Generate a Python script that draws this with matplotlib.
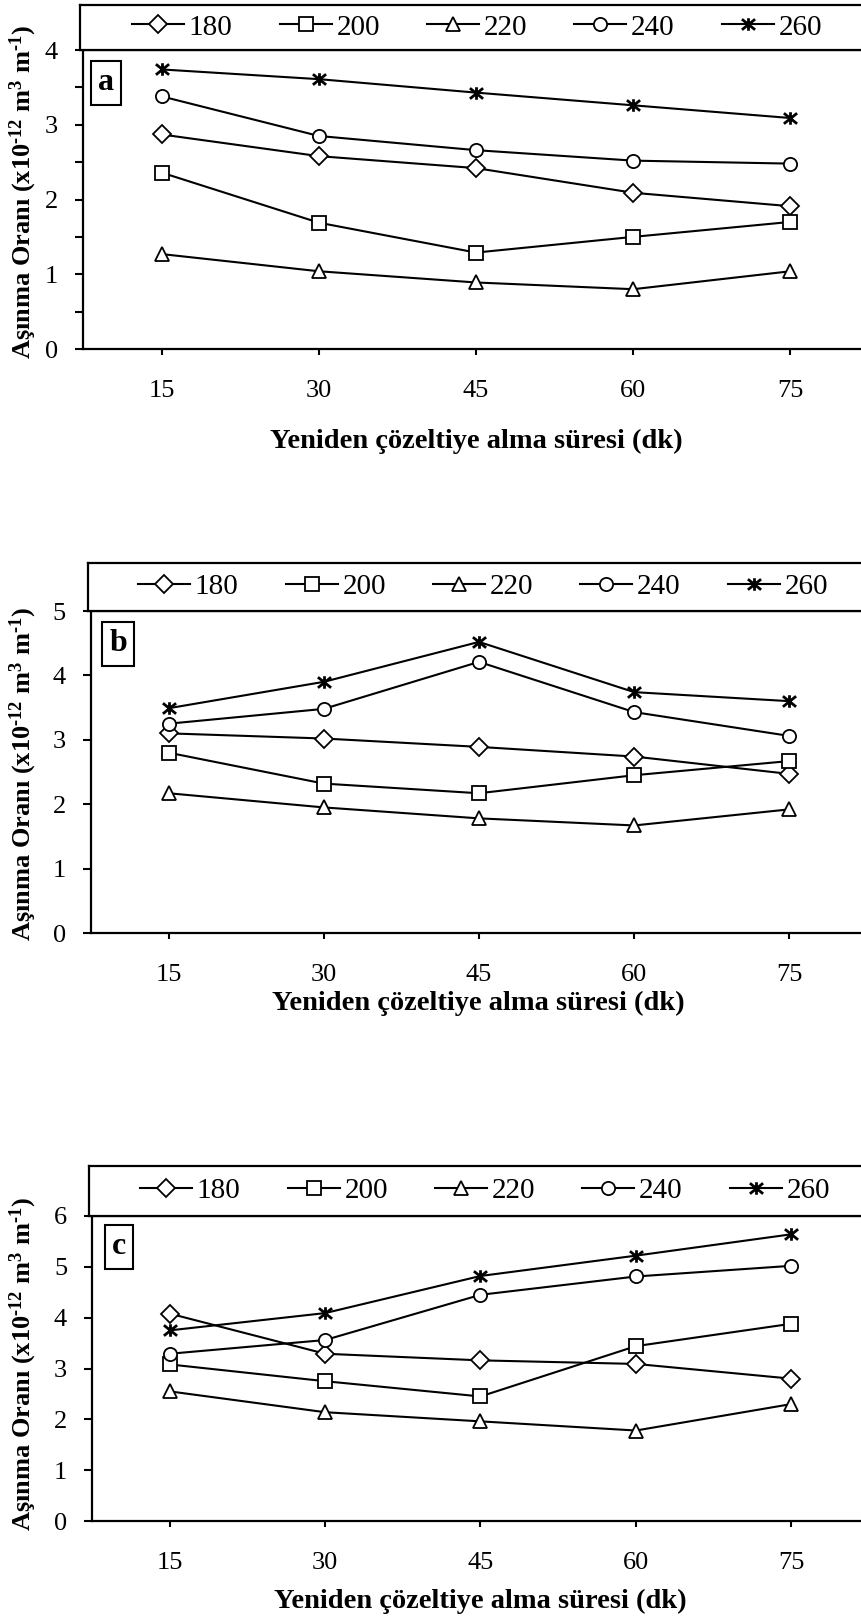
import matplotlib
matplotlib.use("Agg")
import matplotlib.pyplot as plt
from matplotlib.path import Path
from matplotlib.ticker import MultipleLocator

# ── fonts: Times-like serif, bold mathtext for the unit superscripts ──────────
plt.rcParams['font.family'] = ['Liberation Serif', 'DejaVu Serif']
plt.rcParams['mathtext.fontset'] = 'custom'
plt.rcParams['mathtext.rm'] = 'Liberation Serif:bold'
plt.rcParams['mathtext.bf'] = 'Liberation Serif:bold'
plt.rcParams['mathtext.it'] = 'Liberation Serif:bold'
plt.rcParams['mathtext.default'] = 'bf'

# ── DATA ──────────────────────────────────────────────────────────────────────
times = ["15", "30", "45", "60", "75"]
temps = ["180", "200", "220", "240", "260"]

# panel a
a_180 = [2.87, 2.58, 2.42, 2.09, 1.91]
a_200 = [2.36, 1.69, 1.29, 1.50, 1.70]
a_220 = [1.27, 1.04, 0.89, 0.80, 1.04]
a_240 = [3.38, 2.85, 2.66, 2.52, 2.48]
a_260 = [3.74, 3.61, 3.43, 3.26, 3.09]

# panel b
b_180 = [3.10, 3.02, 2.89, 2.74, 2.47]
b_200 = [2.80, 2.32, 2.17, 2.45, 2.67]
b_220 = [2.17, 1.95, 1.78, 1.67, 1.92]
b_240 = [3.25, 3.48, 4.21, 3.43, 3.06]
b_260 = [3.49, 3.90, 4.52, 3.74, 3.60]

# panel c
c_180 = [4.08, 3.29, 3.16, 3.09, 2.80]
c_200 = [3.08, 2.75, 2.45, 3.44, 3.88]
c_220 = [2.55, 2.14, 1.96, 1.78, 2.30]
c_240 = [3.29, 3.56, 4.45, 4.81, 5.02]
c_260 = [3.75, 4.09, 4.82, 5.22, 5.64]

# U+2010 hyphen keeps the short dash of the original (mathtext turns "-" into a minus)
ylabel = "Aşınma Oranı (x10$^{\u201012}$ m$^{3}$ m$^{\u20101}$)"
xlabel = "Yeniden çözeltiye alma süresi (dk)"

# ── STYLE ─────────────────────────────────────────────────────────────────────
W, H, DPI = 861, 1618, 100

# Excel-style "star": a wide x with a vertical bar through it
star = Path([(-1, -0.8), (1, 0.8), (-1, 0.8), (1, -0.8), (0, -0.95), (0, 0.95)],
            [Path.MOVETO, Path.LINETO] * 3)
markers = {"180": ("D", 9.5, 1.3), "200": ("s", 9.5, 1.3), "220": ("^", 9.5, 1.3),
           "240": ("o", 9.5, 1.3), "260": (star, 9.5, 2.0)}

# pixel geometry of each panel: axes (l, r, top, bottom), legend box top,
# legend start, letter box centre, x-label centre, y-label centre
panels = [
    dict(letter="a", data=[a_180, a_200, a_220, a_240, a_260], ymax=4, minor=True,
         ax=(83, 869, 50, 349), leg_top=5, leg_x=132, let=(106, 83), xl=(476, 441), yl=192),
    dict(letter="b", data=[b_180, b_200, b_220, b_240, b_260], ymax=5, minor=False,
         ax=(91, 867, 611, 933), leg_top=563, leg_x=138, let=(118, 644), xl=(478, 1003), yl=774),
    dict(letter="c", data=[c_180, c_200, c_220, c_240, c_260], ymax=6, minor=False,
         ax=(92, 869, 1216, 1521), leg_top=1166, leg_x=140, let=(119, 1247), xl=(480, 1601), yl=1364),
]


def fx(px):
    return px / W


def fy(py):
    return 1 - py / H


fig = plt.figure(figsize=(W / DPI, H / DPI), dpi=DPI)

for p in panels:
    l, r, t, b = p["ax"]
    ax = fig.add_axes([fx(l), fy(b), fx(r - l), (b - t) / H])
    xs = range(len(times))
    for name, vals in zip(temps, p["data"]):
        m, ms, mew = markers[name]
        ax.plot(xs, vals, color="black", lw=1.5, marker=m, markersize=ms,
                markerfacecolor="white" if name != "260" else "none",
                markeredgecolor="black", markeredgewidth=mew, label=name)

    ax.set_xlim(-0.5, len(times) - 0.5)
    ax.set_ylim(0, p["ymax"])
    ax.set_xticks(list(xs))
    ax.set_xticklabels(times)
    ax.yaxis.set_major_locator(MultipleLocator(1))
    if p["minor"]:
        ax.yaxis.set_minor_locator(MultipleLocator(0.5))
    ax.tick_params(axis="y", which="both", direction="out", length=6, width=1.5,
                   labelsize=19, pad=12)
    ax.tick_params(axis="x", direction="out", length=4, width=1.5, labelsize=19, pad=18.5)
    for s in ax.spines.values():
        s.set_linewidth(1.6)

    # letter tag in a box
    ax.text(fx(p["let"][0]), fy(p["let"][1]), p["letter"], transform=fig.transFigure,
            ha="center", va="center", fontsize=23, fontweight="bold",
            bbox=dict(boxstyle="square,pad=0.22", fc="white", ec="black", lw=1.5))

    # legend box sitting on top of the plot area
    lax = fig.add_axes([fx(l - 3), fy(t), fx(880 - l), (t - p["leg_top"]) / H])
    lax.set_xticks([])
    lax.set_yticks([])
    for s in lax.spines.values():
        s.set_linewidth(1.6)
    handles, labels = ax.get_legend_handles_labels()
    lax.legend(handles, labels, ncol=5, frameon=False, fontsize=21,
               loc="center left", bbox_to_anchor=(fx(p["leg_x"]), fy((t + p["leg_top"]) / 2)),
               bbox_transform=fig.transFigure, borderpad=0, borderaxespad=0,
               handlelength=1.78, handletextpad=0.17, columnspacing=1.61)

    fig.text(fx(p["xl"][0]), fy(p["xl"][1]), xlabel, ha="center", va="center",
             fontsize=20.5, fontweight="bold")
    fig.text(fx(23), fy(p["yl"]), ylabel, rotation=90, ha="center", va="center",
             fontsize=19, fontweight="bold")

fig.savefig("out.png", dpi=DPI)
